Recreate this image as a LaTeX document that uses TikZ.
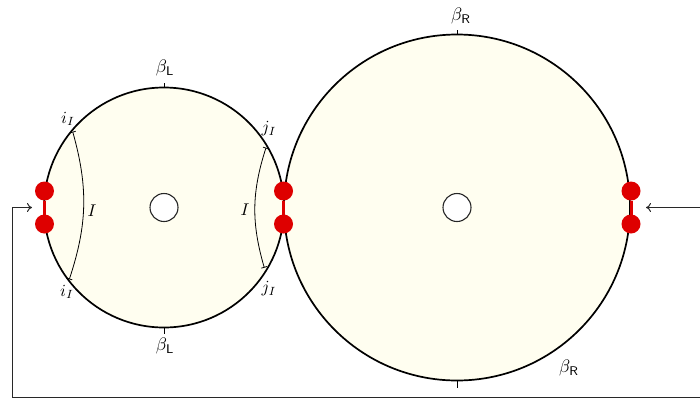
\documentclass[tikz,border=0pt]{standalone}
\usepackage{graphicx}
\usetikzlibrary{arrows.meta,calc}
\definecolor{cream}{RGB}{255,254,240}
\definecolor{dotred}{RGB}{222,0,0}
\definecolor{conn}{RGB}{40,40,40}
\newcommand{\lblA}[1]{\scalebox{1.7}{#1}}
\newcommand{\lblB}[1]{\scalebox{1.8}{#1}}
\tikzset{
  bigcirc/.style={circle, draw=black, line width=1.7pt, fill=cream, inner sep=0pt, outer sep=0pt},
  hole/.style={circle, draw=black!85, line width=1.1pt, fill=white, minimum size=28pt, inner sep=0pt},
  reddot/.style={circle, fill=dotred, minimum size=19pt, inner sep=0pt, outer sep=0pt},
  redlink/.style={dotred, line width=3pt},
  chord/.style={black, line width=0.8pt, {Bar[width=6pt,line width=0.8pt]}-{Bar[width=6pt,line width=0.8pt]}},
  tick/.style={black, line width=1pt},
  connline/.style={conn, line width=1pt, -{To[length=5pt,width=9pt,line width=1pt]}},
  lbl/.style={inner sep=0pt},
}
\begin{document}
\begin{tikzpicture}[x=1pt,y=-1pt]
\useasboundingbox (0,0) rectangle (700,399);
\clip (0,0) rectangle (700,399);
\fill[white] (0,0) rectangle (700,399);
% circles
\node[bigcirc, minimum size=240pt] (L) at (164,207.5) {};
\node[bigcirc, minimum size=346pt] (R) at (457,207.5) {};
\node[hole] (hL) at (164,207.5) {};
\node[hole] (hR) at (457,207.5) {};
% chords
\coordinate (iT) at (72.7,131.7);
\coordinate (iB) at (69.3,279.3);
\coordinate (jT) at (266,147.7);
\coordinate (jB) at (264.3,267.7);
\draw[chord] (iT) to[bend left=17] (iB);
\draw[chord] (jT) to[bend right=17] (jB);
\node[lbl] (lI1) at (92,211) {\lblA{$I$}};
\node[lbl] (lI2) at (245,210) {\lblA{$I$}};
\node[lbl] (li1) at (68,119) {\lblA{$i_I$}};
\node[lbl] (li2) at (67,292) {\lblA{$i_I$}};
\node[lbl] (lj1) at (269,129) {\lblA{$j_I$}};
\node[lbl] (lj2) at (269,289) {\lblA{$j_I$}};
% ticks and beta labels
\draw[tick] (L.north) -- ++(0,-5);
\draw[tick] (L.south) -- ++(0,6);
\draw[tick] (R.north) -- ++(0,-5);
\draw[tick] (R.south) -- ++(0,7);
\node[lbl] (bL1) at (165,68) {\lblB{$\beta_{\mathsf{L}}$}};
\node[lbl] (bL2) at (165,346) {\lblB{$\beta_{\mathsf{L}}$}};
\node[lbl] (bR1) at (461,16) {\lblB{$\beta_{\mathsf{R}}$}};
\node[lbl] (bR2) at (569,368) {\lblB{$\beta_{\mathsf{R}}$}};
% red dots
\node[reddot] (dL1) at (44.5,191) {};
\node[reddot] (dL2) at (44.5,224) {};
\node[reddot] (dM1) at (283.5,191) {};
\node[reddot] (dM2) at (283.5,224) {};
\node[reddot] (dR1) at (631,191) {};
\node[reddot] (dR2) at (631,224) {};
\draw[redlink] (dL1) -- (dL2);
\draw[redlink] (dM1) -- (dM2);
\draw[redlink] (dR1) -- (dR2);
% feedback connector
\coordinate (rc) at (715,207.5);
\coordinate (lc) at (12,397);
\coordinate (aL) at (32,207.5);
\coordinate (aR) at (646,207.5);
\draw[connline] (rc) |- (lc) |- (aL);
\draw[connline] (rc) -- (aR);
\end{tikzpicture}
\end{document}
